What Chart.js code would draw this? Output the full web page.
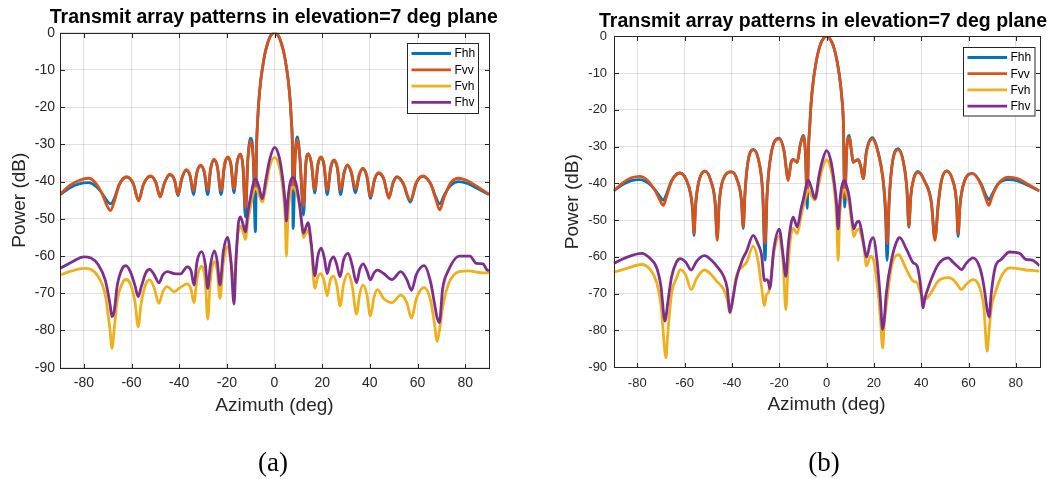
<!DOCTYPE html>
<html>
<head>
<meta charset="utf-8">
<script src="https://cdn.jsdelivr.net/npm/chart.js@4.4.1/dist/chart.umd.min.js"></script>
<style>
  html, body { margin: 0; padding: 0; background: #fff; }
  #stage { position: relative; width: 1054px; height: 479px; overflow: hidden; }
  canvas { position: absolute; top: 0; }
  #plot-a { left: 0; }
  #plot-b { left: 527px; }
  .caption { position: absolute; top: 447px; font-family: 'Liberation Serif', 'Times New Roman', serif; font-size: 27px; color: #000; transform: translateX(-50%); }
</style>
</head>
<body>
<div id="stage">
  <canvas id="plot-a" width="527" height="479"></canvas>
  <canvas id="plot-b" width="527" height="479"></canvas>
  <div class="caption" style="left:273px">(a)</div>
  <div class="caption" style="left:824px">(b)</div>
</div>
<script>
const TITLE = 'Transmit array patterns in elevation=7 deg plane';
const SERIES_NAMES = ['Fhh', 'Fvv', 'Fvh', 'Fhv'];
const SERIES_COLORS = ['#0072bd', '#d95319', '#edb120', '#7e2f8e'];
const X_TICKS = [-80, -60, -40, -20, 0, 20, 40, 60, 80];
const Y_TICKS = [0, -10, -20, -30, -40, -50, -60, -70, -80, -90];

// (a) co-polar: azimuth, Fhh, Fvv
const A_CO_AZ = [-90, -86, -82, -78, -75, -72.5, -70.5, -68.8, -67.2, -65.2, -62, -59.3, -57, -55, -52, -49.8, -48, -46.2, -44, -42, -40.5, -38.9, -37, -35.4, -34, -32.6, -31, -29.5, -28, -26.8, -25.4, -24, -22.4, -21, -19.6, -18.3, -17, -15.7, -14.3, -13.2, -12.2, -11.2, -10.1, -9, -8, -7.5, -7.1, -6.6, -5.8, -5, -4, -3, -2, -1, 0, 1, 2, 3, 4, 5, 5.8, 6.6, 7.1, 7.5, 7.8, 8.7, 9.6, 10.6, 12.2, 13.1, 14.2, 15.5, 16.9, 18.2, 19.5, 20.8, 22.1, 23.6, 25, 26.4, 27.7, 29.2, 30.6, 32.2, 34, 35.5, 37, 38.7, 40.3, 42, 43.7, 45.8, 48, 49.8, 51.4, 54, 57, 59.5, 62.2, 65.5, 67.6, 69.3, 71.3, 74, 77.3, 81, 85, 90];
const A_HH = [-43.5, -41.7, -40.6, -40.3, -41.2, -43, -45, -46, -44.5, -40.8, -38.8, -40.5, -45, -40.8, -38.6, -40.2, -44, -40.5, -38.2, -39.6, -43.8, -39.3, -37, -38.6, -43.5, -37.8, -35.8, -37.5, -43.5, -36.8, -34.2, -36, -43.5, -35.8, -33.6, -35.5, -43, -35, -32.6, -36.5, -49.5, -34.5, -28.3, -32.5, -53.5, -30, -24, -18.5, -13, -9.3, -5.6, -3.1, -1.3, -0.3, 0, -0.3, -1.3, -3.1, -5.6, -9.3, -13, -18.5, -24, -30, -52.6, -33, -28, -33, -49, -35.8, -32.5, -35.3, -43, -35.6, -33.5, -35.8, -43.5, -36.4, -34.3, -36.6, -43.5, -37.8, -35.7, -37.6, -43, -38.5, -36.6, -38.5, -44.5, -39.5, -37.8, -39.3, -44.2, -40.3, -38.8, -40.6, -45.5, -40.4, -38.6, -40.6, -44, -46, -43.5, -41, -40, -40.5, -41.8, -43.5];
const A_VV = [-43.4, -41.1, -39.7, -39.1, -40.4, -43, -46.2, -47.8, -45.3, -41, -38.7, -40.5, -45.2, -40.8, -38.5, -40.2, -44.2, -40.4, -38, -39.4, -43.5, -39.1, -36.8, -38.3, -42.5, -37.5, -35.6, -37.2, -42.2, -36.5, -34, -35.8, -42.4, -35.5, -33.4, -35.3, -42, -34.8, -32.6, -36, -47, -34, -29, -33, -42, -30, -24, -18.5, -13, -9.3, -5.6, -3.1, -1.3, -0.3, 0, -0.3, -1.3, -3.1, -5.6, -9.3, -13, -18.5, -24, -30, -42, -33, -28.7, -33.5, -46.5, -35.4, -32.6, -35, -42.2, -35.3, -33.4, -35.5, -42.3, -36, -34.2, -36.3, -42.3, -37.4, -35.5, -37.3, -42, -38.2, -36.4, -38.3, -44, -39.3, -37.6, -39.1, -44.5, -40.1, -38.7, -40.4, -45, -40.2, -38.5, -40.6, -44.5, -47.6, -44, -40.3, -39.1, -39.8, -41.3, -43.4];

// (a) cross-polar: azimuth, Fvh, Fhv
const A_X_AZ = [-90, -85, -80, -77, -74, -71, -69, -68.2, -67.3, -66, -64, -62.3, -60.5, -58.5, -57.2, -56, -54, -52.4, -50.5, -48.5, -46.8, -45, -42.2, -39.4, -36.6, -35, -33.8, -32.5, -30.5, -29, -28, -27, -25.2, -24, -22.9, -21.5, -19.7, -18.2, -17, -16.2, -15.2, -14.3, -13.2, -12.2, -11.2, -10.3, -8, -6.5, -5.2, -3.5, -2, 0, 2, 3.5, 4.5, 5, 5.6, 6.5, 7.7, 9, 10.5, 11.4, 12.1, 14.1, 15.5, 16.9, 18.2, 19.6, 20.9, 22.1, 23.4, 24.8, 26.2, 27.5, 29, 30.9, 32.6, 34.4, 35.8, 37.2, 38.8, 40.2, 41.8, 43.1, 45.8, 49.3, 53, 55.5, 57.5, 59.5, 62.8, 65.5, 67.2, 68.2, 69.2, 70.5, 73, 77.5, 82, 84.7, 87.5, 89, 90];
const A_VH = [-65.1, -64, -63.3, -63.6, -65.5, -70.5, -80, -84.8, -80, -72, -67.5, -66.3, -67.5, -72.5, -79, -73, -67.5, -66.4, -68.5, -72.7, -69.5, -68.2, -69.6, -68.4, -67.5, -69, -72.5, -66, -62.7, -67, -77, -67, -61.5, -64, -71.4, -62, -57.5, -62, -68, -60, -53.5, -52, -53.5, -55.5, -50.5, -47.5, -41.8, -43.5, -45.5, -41, -36, -33.5, -36, -42, -50, -60, -50, -43.5, -41.5, -42.5, -46.5, -51, -55, -53, -58, -68.7, -65.5, -64.7, -67, -70.7, -66.5, -65.4, -68, -73.4, -67.5, -64.7, -68, -75.6, -70, -67.8, -70.5, -76.1, -71, -69, -71.4, -72.5, -70.5, -72.5, -76.7, -71.5, -68.4, -72, -78.5, -83, -80, -74, -67.5, -64.2, -64, -64.3, -64.5, -64.5, -64.5];
const A_HV = [-63.3, -61.6, -60.2, -60.5, -62.3, -66.5, -73, -76.3, -75, -68, -63.5, -62.6, -64.2, -68, -70.9, -68.5, -64.5, -63.6, -65, -67.2, -65, -64.2, -64.7, -64.8, -62.9, -64, -67.8, -61.5, -58.8, -62.5, -68.7, -63, -58.6, -61.5, -67.8, -59, -55, -62, -72.9, -62, -51.5, -49.5, -51.5, -53.5, -48.5, -45, -39.3, -41.5, -44.6, -39, -34, -30.8, -33.5, -39.5, -46, -50.6, -45, -40.5, -38.9, -40.5, -46, -51, -53.9, -51, -57, -65.3, -60, -57.9, -60.5, -64.7, -61.5, -60.2, -62.5, -65.6, -61, -59.3, -62.5, -67.2, -63.5, -62.1, -64, -66.4, -64.5, -63.8, -64.7, -66.3, -64.2, -66.3, -69.2, -65, -62.6, -67, -73, -76.5, -77.9, -69, -63.8, -60, -60, -62, -62.1, -63.6, -64];

// (b) co-polar: azimuth, Fhh, Fvv
const B_CO_AZ = [-90, -86, -82.5, -78.9, -75.5, -72.5, -70.5, -69, -67.8, -65.5, -62, -59.3, -57.3, -56.6, -56, -55.4, -54.3, -51.4, -48.8, -47.1, -46.2, -45.4, -44, -40.1, -37.7, -36, -35.2, -34.5, -33.3, -31, -28.8, -27, -26, -25.2, -23.8, -20, -18, -16.2, -15, -14.1, -12.4, -11.2, -9.9, -8.9, -8.2, -7.6, -7.1, -6.5, -5.5, -4.5, -3.5, -2.5, -1.2, 0, 1.2, 2.5, 3.5, 4.5, 5.5, 6.5, 7.1, 7.7, 8.5, 9.6, 10.5, 11.3, 12.4, 13.4, 14.5, 15.5, 16.8, 19.4, 21.6, 23.8, 24.9, 25.6, 26.4, 27.7, 30.3, 32.5, 34, 34.8, 35.6, 36.8, 38.7, 41.5, 44.3, 45.8, 47.2, 48.5, 50.7, 53.2, 54.9, 55.6, 56.4, 58, 61.7, 65.2, 67.5, 68.6, 70, 72.5, 76.8, 81, 85.5, 90];
const B_HH = [-42.1, -40.3, -39.3, -39, -39.9, -41.8, -43.5, -44.6, -43.2, -39.3, -37.2, -39, -43.5, -47.5, -54.2, -46.5, -40.5, -36.7, -39.5, -45, -54.8, -45.5, -39.5, -36.9, -39.2, -44.5, -52.3, -43, -34.5, -30.8, -33.5, -42.5, -60.9, -44, -33.5, -27.7, -31, -38.8, -34.2, -33.5, -34.3, -29.8, -27, -32, -46.8, -30, -24.5, -18, -11.6, -7.4, -4.2, -2, -0.5, 0, -0.5, -2, -4, -7, -11, -17, -23.5, -46.5, -31, -27, -31, -34.3, -33.8, -33.6, -35.5, -38.8, -31.5, -27.6, -31, -38.5, -48, -61, -46, -35, -30.6, -34.3, -42, -52, -43.5, -38.8, -36.8, -39.5, -45, -55, -45.5, -39.5, -36.6, -39, -45, -54.5, -46, -40, -37.3, -40, -43.5, -44.5, -43, -40.2, -39, -39.4, -40.7, -42.1];
const B_VV = [-42.1, -39.8, -38.5, -38.1, -39.3, -42, -44.5, -46, -44, -39.5, -37.2, -39, -43.3, -47, -53.7, -46.5, -40.5, -36.7, -39.6, -45.5, -55.5, -46, -39.5, -36.9, -39.2, -44.5, -51.9, -43, -34.5, -30.9, -33.5, -42.3, -56.4, -44, -33.5, -27.9, -31.2, -39.2, -34.5, -33.6, -34.3, -29.9, -27.2, -32, -43.5, -30, -24.5, -18, -11.6, -7.4, -4.2, -2, -0.5, 0, -0.5, -2, -4, -7, -11, -17, -23.5, -43.8, -31, -27.5, -31.2, -34.3, -33.8, -33.6, -35.5, -38.8, -31.7, -27.9, -31.2, -38.5, -46, -56.4, -45, -35, -30.9, -34.3, -42, -51.7, -43.5, -38.8, -37, -39.5, -45.5, -55.5, -46, -39.5, -36.7, -39, -45, -53.7, -46, -40, -37.4, -40.3, -44.5, -46, -43.5, -40.2, -38.3, -38.8, -40.4, -42.1];

// (b) cross-polar: azimuth, Fvh, Fhv
const B_X_AZ = [-90, -85, -78.2, -74.5, -71.8, -70, -68.3, -67.9, -67, -65.5, -63.5, -61.8, -59.5, -57.2, -55, -51.6, -48.5, -46.5, -43.5, -42, -40.8, -39.5, -38.2, -35.5, -33.8, -31, -29, -27.5, -26.2, -25.5, -24.6, -24, -22.3, -20, -18.3, -17.2, -16.2, -15, -14.1, -12.4, -10.8, -9.9, -7.7, -6.3, -4.9, -3.2, -1.8, 0, 1.8, 3.2, 4.3, 4.9, 5.5, 6.4, 7.5, 8.6, 9.6, 10.6, 11.5, 12.6, 13.7, 14.8, 15.7, 16.9, 18.6, 19.7, 21.5, 22.8, 23.7, 24.4, 25.2, 27.5, 30.3, 30.9, 33.8, 36.6, 38.3, 39.8, 40.8, 41.5, 43.7, 47.2, 51.4, 53.5, 55.2, 57, 59, 61.9, 64.8, 66.5, 67.9, 68.7, 69.6, 71.3, 73.9, 77.3, 81.7, 84.2, 87, 90];
const B_VH = [-64.2, -63.3, -62.1, -63.5, -67, -73, -86, -87.5, -80, -70, -66, -63.5, -65, -68.9, -66, -63.6, -65, -66.6, -68.9, -71.5, -75.3, -71, -65.5, -62.7, -61.5, -57.1, -61, -68, -73.3, -70.5, -69.8, -68, -59, -54.4, -62, -74.4, -62, -54, -52.3, -53.7, -49, -46.4, -41.9, -43.5, -44.6, -40, -36, -33.6, -36, -41, -50, -61, -50, -43.5, -41.8, -43, -45.5, -50.5, -54.5, -53, -52.5, -54.5, -57, -62.5, -59.8, -60.5, -68, -77, -84.8, -78, -73.5, -62.5, -59.4, -59.6, -63.5, -66.6, -67.1, -70, -71, -71.6, -70.3, -66.6, -65.7, -66.2, -67.5, -68.9, -67.5, -66.2, -68.5, -74, -85.7, -80, -74, -69.8, -65.3, -63, -63.3, -63.6, -63.7, -63.9];
const B_HV = [-61.8, -60.3, -59.1, -60.5, -63, -68, -77.5, -76.5, -72, -65.5, -61.5, -60.5, -61.5, -63.6, -61.3, -59.7, -61, -62.5, -65.3, -68.5, -75.1, -71, -66.2, -60.7, -58.5, -54.2, -56.5, -59.4, -66.5, -66.2, -66.8, -68.7, -58, -52.5, -60, -65.3, -57, -51, -49.2, -51.9, -47, -44.6, -39.2, -41.5, -44.2, -38, -34, -31.1, -33.8, -39.5, -46, -52.4, -46, -41, -39.2, -41, -43.8, -49, -52.4, -50.8, -50.3, -53, -56.5, -60.1, -55.8, -54.8, -62, -72, -79.8, -77, -70.3, -60.7, -55, -54.8, -58, -61.6, -62.5, -68, -73.9, -71.5, -67.1, -62.1, -60.3, -61.5, -62.5, -63.5, -61.8, -60.3, -63, -68, -74.5, -76.4, -70, -62.8, -60.7, -58.7, -59.1, -60.7, -60.9, -62.4];

const FONT = "'Liberation Sans', Arial, Helvetica, sans-serif";
const INK = '#262626';

function pts(az, db) {
  return az.map((x, i) => ({ x, y: db[i] }));
}

// MATLAB style title, box, inward ticks and boxed legend
const matlabAxes = {
  id: 'matlabAxes',
  afterDatasetsDraw(chart, args, opts) {
    const { ctx, chartArea: a, scales } = chart;
    const x = scales.x, y = scales.y;
    const L = Math.round(a.left) + 0.5, R = Math.round(a.right) + 0.5;
    const T = Math.round(a.top) + 0.5, B = Math.round(a.bottom) + 0.5;
    ctx.save();
    ctx.strokeStyle = INK;
    ctx.lineWidth = 1;
    ctx.strokeRect(L, T, R - L, B - T);
    const tl = 4.5;
    ctx.beginPath();
    X_TICKS.forEach((v) => {
      const px = Math.round(x.getPixelForValue(v)) + 0.5;
      ctx.moveTo(px, B); ctx.lineTo(px, B - tl);
      ctx.moveTo(px, T); ctx.lineTo(px, T + tl);
    });
    Y_TICKS.forEach((v) => {
      const py = Math.round(y.getPixelForValue(v)) + 0.5;
      ctx.moveTo(L, py); ctx.lineTo(L + tl, py);
      ctx.moveTo(R, py); ctx.lineTo(R - tl, py);
    });
    ctx.stroke();

    // title
    ctx.fillStyle = '#000';
    ctx.font = 'bold 19.5px ' + FONT;
    ctx.textAlign = 'center';
    ctx.textBaseline = 'alphabetic';
    ctx.fillText(TITLE, (a.left + a.right) / 2 + opts.titleDx, opts.titleBase);

    // legend
    const bx = Math.round(a.right - opts.right - opts.w) + 0.5;
    const by = Math.round(a.top + opts.top) + 0.5;
    ctx.fillStyle = '#fff';
    ctx.fillRect(bx, by, opts.w, opts.h);
    ctx.strokeStyle = INK;
    ctx.lineWidth = 1;
    ctx.strokeRect(bx, by, opts.w, opts.h);
    ctx.font = '12px ' + FONT;
    ctx.textBaseline = 'middle';
    ctx.textAlign = 'left';
    chart.data.datasets.forEach((ds, i) => {
      const ry = by + opts.row0 + i * opts.rowGap;
      ctx.strokeStyle = ds.borderColor;
      ctx.lineWidth = 2.8;
      ctx.beginPath();
      ctx.moveTo(bx + 4, ry);
      ctx.lineTo(bx + 43.5, ry);
      ctx.stroke();
      ctx.fillStyle = '#000';
      ctx.fillText(ds.label, bx + 47, ry + 0.5);
    });
    ctx.restore();
  },
};

function makePlot(id, p) {
  const series = [
    pts(p.coAz, p.hh),
    pts(p.coAz, p.vv),
    pts(p.xAz, p.vh),
    pts(p.xAz, p.hv),
  ];
  return new Chart(document.getElementById(id), {
    type: 'line',
    data: {
      datasets: series.map((data, i) => ({
        label: SERIES_NAMES[i],
        data,
        borderColor: SERIES_COLORS[i],
        backgroundColor: SERIES_COLORS[i],
        order: 3 - i,
      })),
    },
    options: {
      responsive: false,
      animation: false,
      devicePixelRatio: 1,
      events: [],
      layout: { padding: p.pad },
      elements: {
        point: { radius: 0 },
        line: { borderWidth: 2.8, cubicInterpolationMode: 'monotone', borderJoinStyle: 'round' },
      },
      plugins: {
        legend: { display: false },
        tooltip: { enabled: false },
        title: { display: false },
        matlabAxes: p.box,
      },
      scales: {
        x: {
          type: 'linear',
          min: -90,
          max: 90,
          afterBuildTicks: (s) => { s.ticks = X_TICKS.map((v) => ({ value: v })); },
          afterFit: (s) => { s.height = 55; },
          grid: { color: 'rgba(38,38,38,0.14)', drawTicks: false },
          border: { display: false },
          ticks: { color: INK, font: { family: FONT, size: p.tickSize }, padding: p.xTickPad, maxRotation: 0 },
          title: { display: true, text: 'Azimuth (deg)', color: INK, font: { family: FONT, size: 19 }, padding: { top: 0, bottom: 6 } },
        },
        y: {
          min: -90,
          max: 0,
          afterBuildTicks: (s) => { s.ticks = Y_TICKS.map((v) => ({ value: v })); },
          afterFit: (s) => { s.width = 60; },
          grid: { color: 'rgba(38,38,38,0.14)', drawTicks: false },
          border: { display: false },
          ticks: { color: INK, font: { family: FONT, size: p.tickSize }, padding: p.yTickPad },
          title: { display: true, text: 'Power (dB)', color: INK, font: { family: FONT, size: 19 }, padding: { top: 8, bottom: 0 } },
        },
      },
    },
    plugins: [matlabAxes],
  });
}

makePlot('plot-a', {
  coAz: A_CO_AZ, hh: A_HH, vv: A_VV, xAz: A_X_AZ, vh: A_VH, hv: A_HV,
  pad: { left: 0, right: 38, top: 32.7, bottom: 56.3 },
  tickSize: 14, xTickPad: 7.2, yTickPad: 5,
  box: { titleDx: -0.7, titleBase: 23, right: 11, top: 10.5, w: 71, h: 70, row0: 10, rowGap: 16.3 },
});

makePlot('plot-b', {
  coAz: B_CO_AZ, hh: B_HH, vv: B_VV, xAz: B_X_AZ, vh: B_VH, hv: B_HV,
  pad: { left: 26.6, right: 14.5, top: 36.3, bottom: 57 },
  tickSize: 13, xTickPad: 8.5, yTickPad: 6.5,
  box: { titleDx: -3.5, titleBase: 27, right: 5.5, top: 11, w: 71.5, h: 68.5, row0: 10, rowGap: 16.2 },
});
</script>
</body>
</html>
